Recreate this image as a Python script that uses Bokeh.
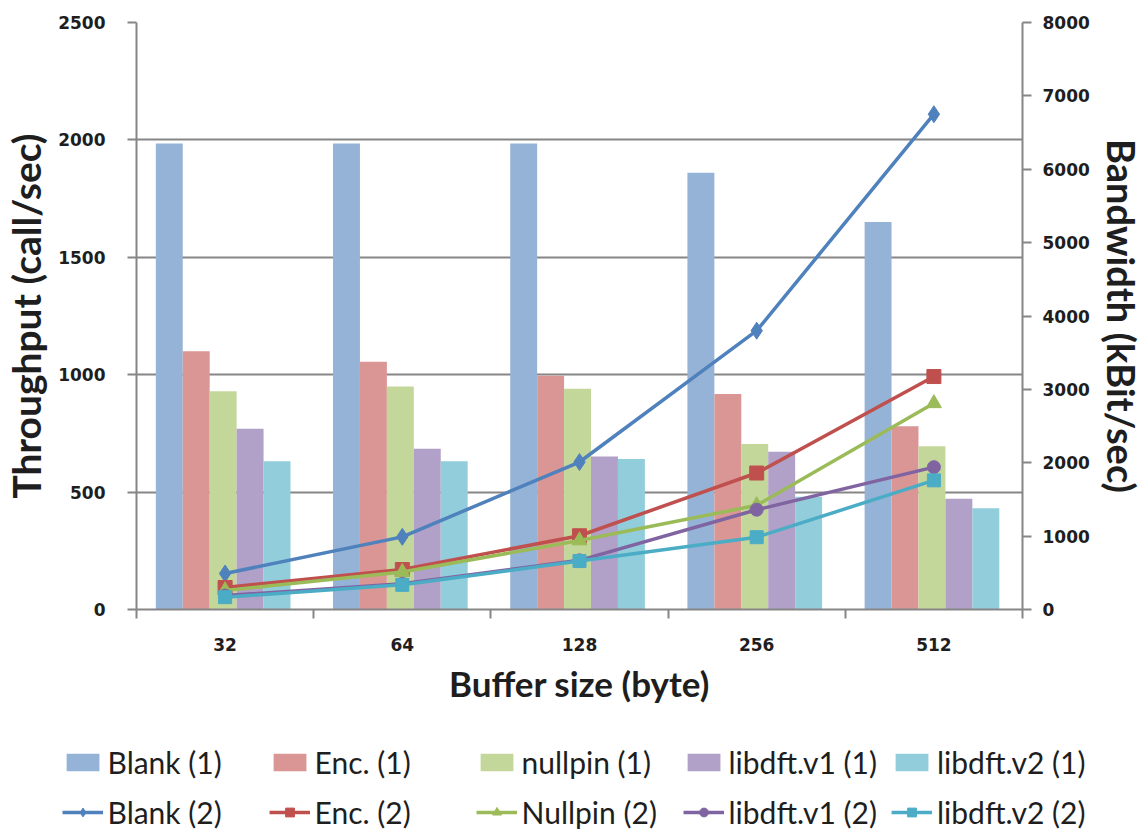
import numpy as np
from bokeh.plotting import figure
from bokeh.models import Range1d, LinearAxis, FixedTicker, Legend, LegendItem
from bokeh.embed import file_html
from bokeh.resources import INLINE

sizes = ["32", "64", "128", "256", "512"]

# Throughput (call/sec) - bars, left axis
blank1 = [1985, 1985, 1985, 1860, 1650]
enc1 = [1100, 1055, 995, 918, 780]
nullpin1 = [930, 950, 940, 705, 695]
libdft_v1_1 = [770, 685, 652, 672, 472]
libdft_v2_1 = [631, 631, 641, 480, 431]

# Bandwidth (kBit/sec) - lines, right axis
blank2 = [490, 990, 2010, 3800, 6750]
enc2 = [300, 545, 1005, 1860, 3175]
nullpin2 = [260, 510, 940, 1420, 2810]
libdft_v1_2 = [190, 350, 670, 1360, 1940]
libdft_v2_2 = [168, 336, 660, 985, 1760]

bar_names = ["Blank (1)", "Enc. (1)", "nullpin (1)", "libdft.v1 (1)", "libdft.v2 (1)"]
line_names = ["Blank (2)", "Enc. (2)", "Nullpin (2)", "libdft.v1 (2)", "libdft.v2 (2)"]

bar_colors = ["#95B3D7", "#DA9694", "#C4D79B", "#B1A0C7", "#92CDDC"]
line_colors = ["#4F81BD", "#C0504D", "#9BBB59", "#8064A2", "#4BACC6"]
markers = ["diamond", "square", "triangle", "circle", "square"]
marker_sizes = [17, 14, 15, 13, 13]

FONT = "Lato"
TICK_FONT = "DejaVu Sans"
GRAY = "#868686"
TXT = "#1e1e1e"

n = len(sizes)
centers = np.arange(n) + 0.5

p = figure(width=1147, height=718, output_backend="svg", toolbar_location=None,
           x_range=Range1d(0, n), y_range=Range1d(0, 2500),
           min_border_left=133, min_border_right=124, min_border_top=22,
           min_border_bottom=109)
p.outline_line_color = None
p.background_fill_color = "white"
p.extra_y_ranges = {"bw": Range1d(0, 8000)}

# bars
bw = 0.152
bar_series = [blank1, enc1, nullpin1, libdft_v1_1, libdft_v2_1]
for j, vals in enumerate(bar_series):
    p.vbar(x=centers + (j - 2) * bw - 0.011, top=vals, width=bw,
           fill_color=bar_colors[j], line_color=None)

# lines
line_series = [blank2, enc2, nullpin2, libdft_v1_2, libdft_v2_2]
for j, vals in enumerate(line_series):
    p.line(x=centers, y=vals, y_range_name="bw", line_color=line_colors[j],
           line_width=3.5)
    p.scatter(x=centers, y=vals, y_range_name="bw", marker=markers[j],
              size=marker_sizes[j], fill_color=line_colors[j],
              line_color=line_colors[j])

# axes
def style_ticks(ax, standoff):
    ax.major_label_standoff = standoff
    ax.major_label_text_font = TICK_FONT
    ax.major_label_text_font_style = "bold"
    ax.major_label_text_font_size = "17px"
    ax.major_label_text_color = TXT
    ax.axis_line_color = GRAY
    ax.axis_line_width = 2
    ax.axis_label_text_font = FONT
    ax.axis_label_text_font_style = "bold"
    ax.axis_label_text_color = TXT

xa = p.xaxis[0]
xa.ticker = FixedTicker(ticks=list(centers), minor_ticks=list(range(n + 1)))
xa.major_label_overrides = {float(c): s for c, s in zip(centers, sizes)}
xa.major_tick_line_color = None
xa.minor_tick_line_color = GRAY
xa.minor_tick_line_width = 2
xa.minor_tick_out = 9
xa.minor_tick_in = 0
style_ticks(xa, 19)
xa.axis_label = "Buffer size (byte)"
xa.axis_label_text_font_size = "35px"
xa.axis_label_standoff = 8

ya = p.yaxis[0]
ya.ticker = FixedTicker(ticks=[0, 500, 1000, 1500, 2000, 2500])
ya.minor_tick_line_color = None
ya.major_tick_line_color = GRAY
ya.major_tick_line_width = 2
ya.major_tick_out = 9
ya.major_tick_in = 0
style_ticks(ya, 22)
ya.axis_label = "Throughput (call/sec)"
ya.axis_label_text_font_size = "39px"
ya.axis_label_standoff = 6

ra = LinearAxis(y_range_name="bw",
                ticker=FixedTicker(ticks=list(range(0, 8001, 1000))))
ra.minor_tick_line_color = None
ra.major_tick_line_color = GRAY
ra.major_tick_line_width = 2
ra.major_tick_out = 9
ra.major_tick_in = 0
style_ticks(ra, 11)
ra.axis_label = "Bandwidth (kBit/sec)"
ra.axis_label_text_font_size = "38px"
ra.axis_label_standoff = 6
p.add_layout(ra, "right")

p.xgrid.visible = False
p.ygrid.ticker = FixedTicker(ticks=[500, 1000, 1500, 2000])
p.ygrid.grid_line_color = GRAY
p.ygrid.grid_line_width = 2

# legend strip below the chart (separate root so its frame spans the full width);
# the proxy renderers hold a single NaN point, so they draw nothing themselves
q = figure(width=1147, height=112, output_backend="svg", toolbar_location=None,
           x_range=Range1d(0, 1), y_range=Range1d(0, 1),
           x_axis_location=None, y_axis_location=None,
           min_border_left=0, min_border_right=0, min_border_top=0,
           min_border_bottom=0)
q.outline_line_color = None
q.grid.visible = False
nan = [float("nan")]
bar_proxies = [q.vbar(x=nan, top=nan, width=0.1, fill_color=c, line_color=None)
               for c in bar_colors]
line_proxies = []
for j, c in enumerate(line_colors):
    lr = q.line(x=nan, y=nan, line_color=c, line_width=3.5)
    sr = q.scatter(x=nan, y=nan, marker=markers[j], size=marker_sizes[j],
                   fill_color=c, line_color=c)
    line_proxies.append([lr, sr])

items = [LegendItem(label=nm, renderers=[r]) for nm, r in zip(bar_names, bar_proxies)]
items += [LegendItem(label=nm, renderers=rs) for nm, rs in zip(line_names, line_proxies)]
legend = Legend(items=items, orientation="horizontal", ncols=5,
                location="bottom_center", glyph_width=41, glyph_height=22,
                label_standoff=5, label_width=147, spacing=14,
                label_text_font=FONT, label_text_font_size="30px",
                label_text_color=TXT, label_height=36,
                border_line_color=None, background_fill_alpha=0,
                padding=0, margin=0)
q.add_layout(legend, "center")

open("out.html", "w").write(file_html([p, q], INLINE))
